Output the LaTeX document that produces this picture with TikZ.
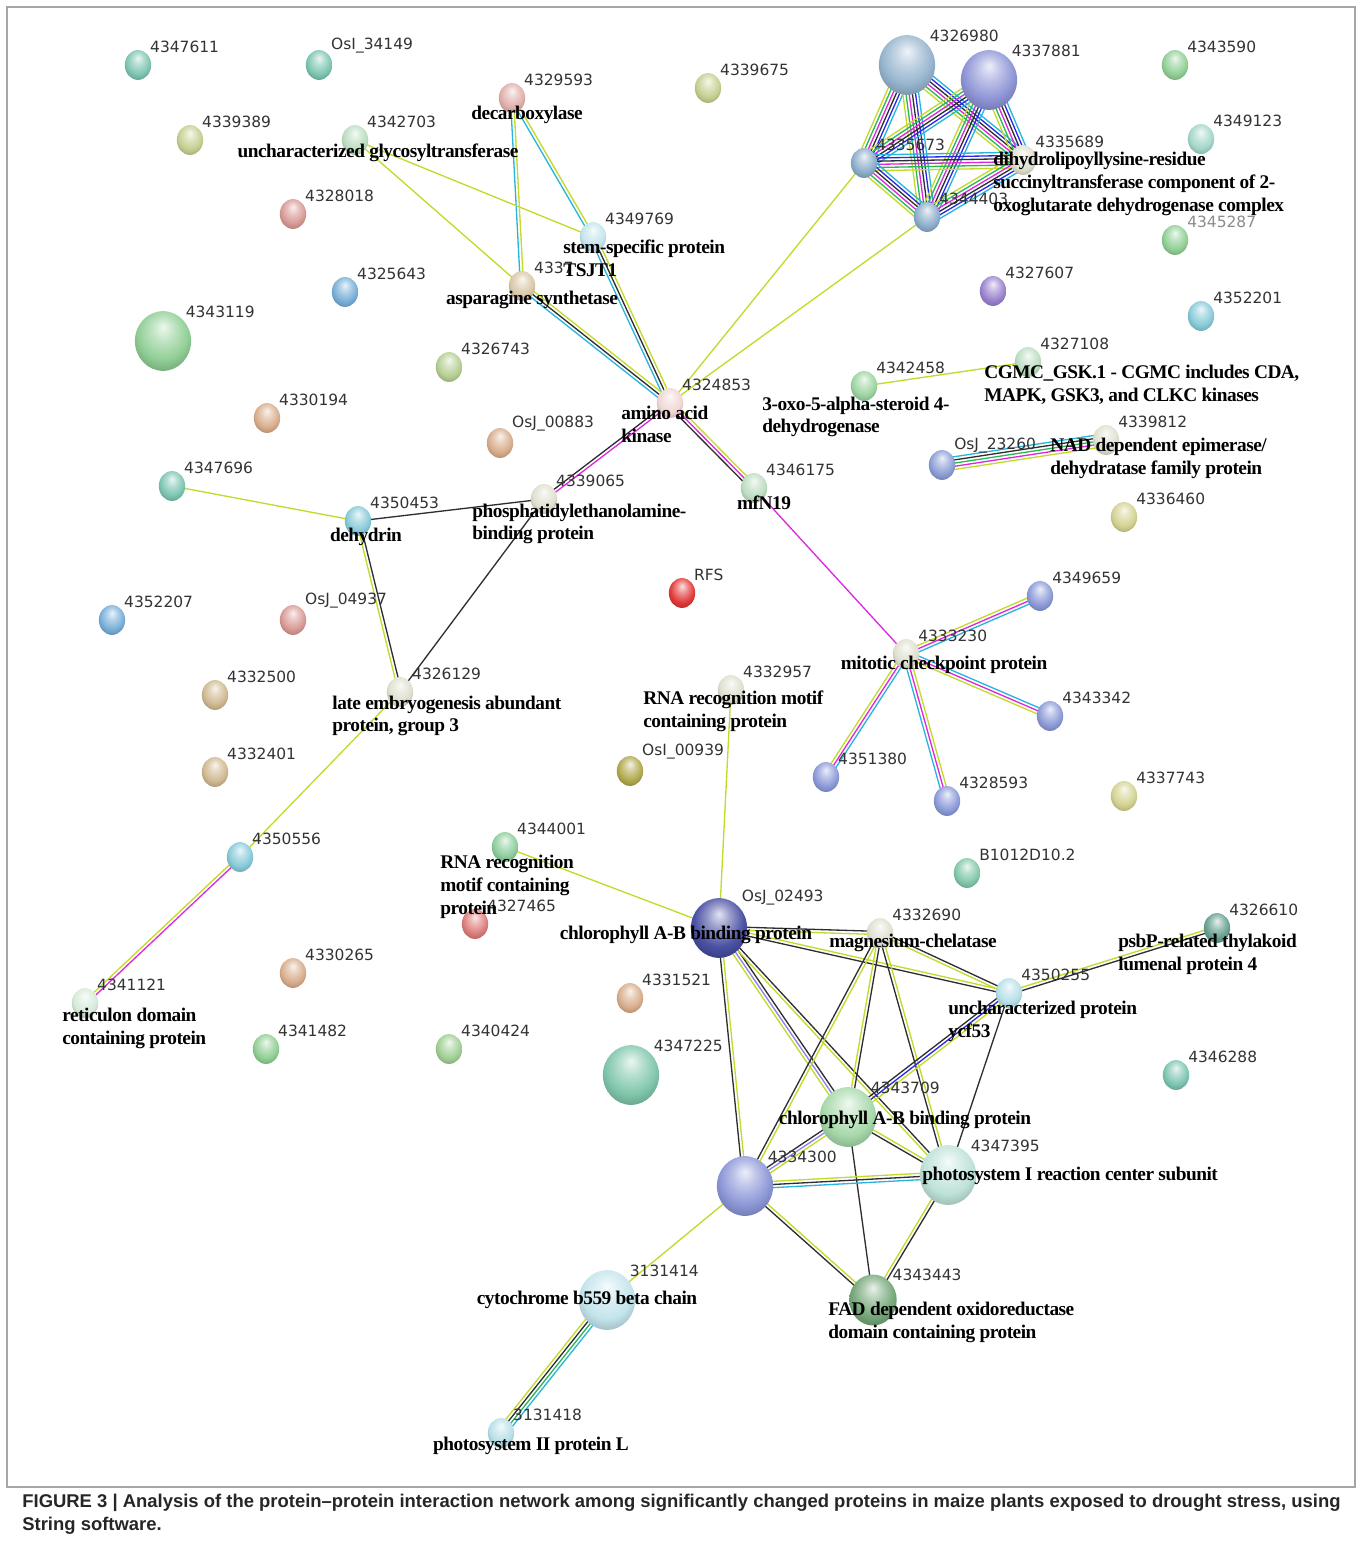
\documentclass[tikz,border=0pt]{standalone}
\usepackage{fontspec}
\setmainfont{Liberation Serif}
\newfontfamily\namefont[LetterSpace=-2.5]{Liberation Serif}
\newfontfamily\numfont{DejaVu Sans}
\newfontfamily\capfont{Liberation Sans}
\usetikzlibrary{calc,backgrounds,shapes.geometric}

% node colours
\definecolor{cTeal}{RGB}{120,195,175}
\definecolor{cOlive}{RGB}{195,205,140}
\definecolor{cGreen}{RGB}{140,205,145}
\definecolor{cPaleGreen}{RGB}{185,220,190}
\definecolor{cRose}{RGB}{215,150,145}
\definecolor{cTan}{RGB}{215,170,135}
\definecolor{cBeige}{RGB}{205,182,140}
\definecolor{cBlue}{RGB}{115,172,215}
\definecolor{cSky}{RGB}{130,200,215}
\definecolor{cPurple}{RGB}{150,125,205}
\definecolor{cRed}{RGB}{225,50,50}
\definecolor{cPeri}{RGB}{135,150,215}
\definecolor{cSteel}{RGB}{135,170,200}
\definecolor{cPale}{RGB}{222,222,205}
\definecolor{cYellow}{RGB}{210,208,140}
\definecolor{cDarkOlive}{RGB}{175,165,70}
% link colours
\definecolor{lkLime}{RGB}{195,218,40}
\definecolor{lkBlack}{RGB}{45,45,50}
\definecolor{lkCyan}{RGB}{40,180,220}
\definecolor{lkMagenta}{RGB}{220,40,220}
\definecolor{lkGreen}{RGB}{40,185,80}
\definecolor{lkBlue}{RGB}{40,40,230}
\definecolor{lkLav}{RGB}{140,130,235}

% lighter sphere than the ball shading
\pgfdeclareradialshading[tikz@ball]{glossy}{\pgfqpoint{0bp}{12bp}}{%
  color(0bp)=(tikz@ball!15!white);
  color(10bp)=(tikz@ball!55!white);
  color(22bp)=(tikz@ball!95!white);
  color(30bp)=(tikz@ball!85!black);
  color(50bp)=(tikz@ball!55!black)}

% parallel links between two nodes, one line per colour
\newcount\nlinks
\newcommand{\links}[3]{%
  \global\nlinks=0
  \foreach \c in {#3}{\global\advance\nlinks by 1}%
  \edef\nn{\the\nlinks}%
  \foreach \c [count=\i] in {#3}{%
    \pgfmathsetmacro\off{(\i-(\nn+1)/2)*1.8}%
    \draw[link,draw=\c] ($(#1)!\off pt!90:(#2)$) -- ($(#2)!\off pt!-90:(#1)$);
  }%
}

\begin{document}
\begin{tikzpicture}[x=0.02cm,y=-0.02cm,
    prot/.style={ellipse,inner sep=0pt,minimum width=15pt,minimum height=17pt,ball color=#1,shading=glossy},
    big/.style={minimum width=32pt,minimum height=34pt},
    numlbl/.style={font=\numfont\fontsize{8.8}{10}\selectfont,text=black!80,inner sep=1pt},
    every label/.style={numlbl},
    label distance=0pt,
    pname/.style={font=\namefont\bfseries\fontsize{11}{13}\selectfont,inner sep=0pt,align=left},
    link/.style={line width=0.75pt},
    capt/.style={font=\capfont\bfseries\fontsize{10.5}{13}\selectfont,text=black!85,align=left,inner sep=0pt}]
\useasboundingbox (0,0) rectangle (1362,1548);
\draw[gray!70,line width=0.8pt] (7,7) rectangle (1355,1487);

% proteins
\node[prot=cTeal,label=45:4347611] (n4347611) at (138,65) {};
\node[prot=cTeal,label=45:OsI\_34149] (nOsI34149) at (319,65) {};
\node[prot=cRose!80!white,label=45:4329593] (n4329593) at (512,98) {};
\node[prot=cOlive,label=45:4339675] (n4339675) at (708,88) {};
\node[prot=cOlive,label=45:4339389] (n4339389) at (190,140) {};
\node[prot=cPaleGreen,label=45:4342703] (n4342703) at (355,140) {};
\node[prot=cRose,label=45:4328018] (n4328018) at (293,214) {};
\node[prot=cSky!50!white,label=45:4349769] (n4349769) at (593,237) {};
\node[prot=cBeige!80!white,label=45:4337] (n4337) at (522,286) {};
\node[prot=cBlue,label=45:4325643] (n4325643) at (345,292) {};
\node[prot=cGreen,big,label=45:4343119] (n4343119) at (163,341) {};
\node[prot=cOlive!70!cGreen,label=45:4326743] (n4326743) at (449,367) {};
\node[prot=cRose!40!white,label=45:4324853] (n4324853) at (670,403) {};
\node[prot=cTan,label=45:4330194] (n4330194) at (267,418) {};
\node[prot=cTan,label=45:OsJ\_00883] (nOsJ00883) at (500,443) {};
\node[prot=cTeal,label=45:4347696] (n4347696) at (172,486) {};
\node[prot=cSky,label=45:4350453] (n4350453) at (358,521) {};
\node[prot=cPale,label=45:4339065] (n4339065) at (544,499) {};
\node[prot=cPaleGreen,label=45:4346175] (n4346175) at (754,488) {};
\node[prot=cRed,label=45:RFS] (nRFS) at (682,593) {};
\node[prot=cBlue,label=45:4352207] (n4352207) at (112,620) {};
\node[prot=cRose,label=45:OsJ\_04937] (nOsJ04937) at (293,620) {};
\node[prot=cBeige,label=45:4332500] (n4332500) at (215,695) {};
\node[prot=cPale,label=45:4326129] (n4326129) at (400,692) {};
\node[prot=cBeige,label=45:4332401] (n4332401) at (215,772) {};
\node[prot=cDarkOlive,label=45:OsI\_00939] (nOsI00939) at (630,771) {};
\node[prot=cPale,label=45:4332957] (n4332957) at (731,690) {};
\node[prot=cSky,label=45:4350556] (n4350556) at (240,857) {};
\node[prot=cGreen!80!cTeal,label=45:4344001] (n4344001) at (505,847) {};
\node[prot=cRose!70!cRed,label=45:4327465] (n4327465) at (475,924) {};
\node[prot=cPaleGreen!60!white,label=45:4341121] (n4341121) at (85,1003) {};
\node[prot=cTan,label=45:4330265] (n4330265) at (293,973) {};
\node[prot=cGreen,label=45:4341482] (n4341482) at (266,1049) {};
\node[prot=cGreen!70!cOlive,label=45:4340424] (n4340424) at (449,1049) {};
\node[prot=cTan,label=45:4331521] (n4331521) at (630,998) {};
\node[prot=cTeal!80!cGreen,big,label=45:4347225] (n4347225) at (631,1075) {};
\node[prot=cPeri!70!blue!70!black,big,label=45:OsJ\_02493] (nOsJ02493) at (719,928) {};
\node[prot=cPale,label=45:4332690] (n4332690) at (880,933) {};
\node[prot=cTeal!80!black,label=45:4326610] (n4326610) at (1217,928) {};
\node[prot=cSky!60!white,label=45:4350255] (n4350255) at (1009,993) {};
\node[prot=cTeal!70!cGreen,label=45:B1012D10.2] (nB1012) at (967,873) {};
\node[prot=cTeal,label=45:4346288] (n4346288) at (1176,1075) {};
\node[prot=cGreen!80!white,big,label=45:4343709] (n4343709) at (848,1117) {};
\node[prot=cTeal!50!white,big,label=45:4347395] (n4347395) at (948,1175) {};
\node[prot=cPeri!90!cPurple,big,label=45:4334300] (n4334300) at (745,1186) {};
\node[prot=cGreen!80!black,big,minimum width=27pt,minimum height=29pt,label=45:4343443] (n4343443) at (873,1300) {};
\node[prot=cSky!50!white,big,label=45:3131414] (n3131414) at (607,1300) {};
\node[prot=cSky!60!white,label=45:3131418] (n3131418) at (501,1433) {};
\node[prot=cSteel!90!white,big,label=45:4326980] (n4326980) at (907,65) {};
\node[prot=cPeri!80!cPurple,big,label=45:4337881] (n4337881) at (989,80) {};
\node[prot=cGreen,label=45:4343590] (n4343590) at (1175,65) {};
\node[prot=cSteel,label=45:4335673] (n4335673) at (864,163) {};
\node[prot=cPale,label=45:4335689] (n4335689) at (1023,160) {};
\node[prot=cTeal!70!white,label=45:4349123] (n4349123) at (1201,139) {};
\node[prot=cSteel,label=45:4344403] (n4344403) at (927,217) {};
\node[prot=cGreen,label={[text=black!45]45:4345287}] (n4345287) at (1175,240) {};
\node[prot=cPurple,label=45:4327607] (n4327607) at (993,291) {};
\node[prot=cSky,label=45:4352201] (n4352201) at (1201,316) {};
\node[prot=cPaleGreen,label=45:4327108] (n4327108) at (1028,362) {};
\node[prot=cGreen!90!white,label=45:4342458] (n4342458) at (864,386) {};
\node[prot=cPale,label=45:4339812] (n4339812) at (1106,440) {};
\node[prot=cPeri!80!cSteel,label=45:OsJ\_23260] (nOsJ23260) at (942,465) {};
\node[prot=cYellow,label=45:4336460] (n4336460) at (1124,517) {};
\node[prot=cPeri,label=45:4349659] (n4349659) at (1040,596) {};
\node[prot=cPale,label=45:4333230] (n4333230) at (906,654) {};
\node[prot=cPeri,label=45:4343342] (n4343342) at (1050,716) {};
\node[prot=cPeri,label=45:4351380] (n4351380) at (826,777) {};
\node[prot=cPeri,label=45:4328593] (n4328593) at (947,801) {};
\node[prot=cYellow,label=45:4337743] (n4337743) at (1124,796) {};

% protein names
\node[pname] (tDecarb) at (527,115) {decarboxylase};
\node[pname] (tGlyco) at (378,153) {uncharacterized glycosyltransferase};
\node[pname,anchor=west] (tStem) at (563,258) {stem-specific protein\\TSJT1};
\node[pname] (tAsn) at (532,300) {asparagine synthetase};
\node[pname,anchor=west] (tAak) at (621,424) {amino acid\\kinase};
\node[pname,anchor=west] (tPebp) at (472,524) {phosphatidylethanolamine-\\binding protein};
\node[pname] (tDhn) at (366,537) {dehydrin};
\node[pname] (tMfn) at (764,503) {mfN19};
\node[pname,anchor=west] (tLea) at (332,716) {late embryogenesis abundant\\protein, group 3};
\node[pname,anchor=west] (tRrmA) at (643,711) {RNA recognition motif\\containing protein};
\node[pname,anchor=west] (tRrmB) at (440,887) {RNA recognition\\motif containing\\protein};
\node[pname,anchor=west] (tRtn) at (62,1028) {reticulon domain\\containing protein};
\node[pname] (tCabA) at (686,935) {chlorophyll A-B binding protein};
\node[pname] (tMgch) at (913,943) {magnesium-chelatase};
\node[pname,anchor=west] (tPsbp) at (1118,954) {psbP-related thylakoid\\lumenal protein 4};
\node[pname,anchor=west] (tYcf) at (948,1021) {uncharacterized protein\\ycf53};
\node[pname] (tCabB) at (905,1120) {chlorophyll A-B binding protein};
\node[pname,anchor=west] (tPsi) at (922,1176) {photosystem I reaction center subunit};
\node[pname,anchor=west] (tFad) at (828,1322) {FAD dependent oxidoreductase\\domain containing protein};
\node[pname] (tCyt) at (587,1300) {cytochrome b559 beta chain};
\node[pname] (tPsii) at (531,1446) {photosystem II protein L};
\node[pname,anchor=west] (tDld) at (993,184) {dihydrolipoyllysine-residue\\succinyltransferase component of 2-\\oxoglutarate dehydrogenase complex};
\node[pname,anchor=west] (tCgmc) at (984,385) {CGMC\_GSK.1 - CGMC includes CDA,\\MAPK, GSK3, and CLKC kinases};
\node[pname,anchor=west] (tOxo) at (762,417) {3-oxo-5-alpha-steroid 4-\\dehydrogenase};
\node[pname,anchor=west] (tNad) at (1050,458) {NAD dependent epimerase/\\dehydratase family protein};
\node[pname] (tMit) at (944,665) {mitotic checkpoint protein};

\node[capt,anchor=north west] (caption) at (22,1494) {FIGURE 3 | Analysis of the protein–protein interaction network among significantly changed proteins in maize plants exposed to drought stress, using\\String software.};

% interactions
\begin{scope}[on background layer]
\fill[white] (0,0) rectangle (1362,1548);
\links{n4329593}{n4337}{lkCyan,lkLime}
\links{n4329593}{n4349769}{lkCyan,lkLime}
\links{n4342703}{n4349769}{lkLime}
\links{n4342703}{n4337}{lkLime}
\links{n4349769}{n4324853}{lkCyan,lkBlack,lkLime}
\links{n4337}{n4324853}{lkCyan,lkBlack,lkLime}
\links{n4324853}{n4335673}{lkLime}
\links{n4324853}{n4344403}{lkLime}
\links{n4324853}{n4339065}{lkBlack,lkMagenta}
\links{n4324853}{n4346175}{lkBlack,lkMagenta,lkLime}
\links{n4346175}{n4333230}{lkMagenta}
\links{n4339065}{n4350453}{lkBlack}
\links{n4339065}{n4326129}{lkBlack}
\links{n4347696}{n4350453}{lkLime}
\links{n4350453}{n4326129}{lkLime,lkBlack}
\links{n4326129}{n4350556}{lkLime}
\links{n4350556}{n4341121}{lkLime,lkMagenta}
\links{n4342458}{n4327108}{lkLime}
\links{nOsJ23260}{n4339812}{lkLime,lkMagenta,lkGreen,lkBlack,lkCyan}
\links{n4333230}{n4349659}{lkCyan,lkMagenta,lkLime}
\links{n4333230}{n4343342}{lkLime,lkMagenta,lkCyan}
\links{n4333230}{n4351380}{lkLime,lkMagenta,lkCyan}
\links{n4333230}{n4328593}{lkCyan,lkMagenta,lkLime}
\links{n4332957}{nOsJ02493}{lkLime}
\links{n4344001}{nOsJ02493}{lkLime}
% complex at the top
\foreach \a/\b in {n4326980/n4335673,n4326980/n4335689,n4326980/n4344403,
    n4337881/n4335673,n4337881/n4335689,n4337881/n4344403,
    n4335673/n4335689,n4335673/n4344403,n4335689/n4344403}
  {\links{\a}{\b}{lkLime,lkGreen,lkMagenta,lkBlack,lkBlue,lkCyan}}
% photosynthesis cluster
\links{nOsJ02493}{n4332690}{lkLime,lkBlack}
\links{nOsJ02493}{n4350255}{lkBlack,lkLime}
\links{nOsJ02493}{n4343709}{lkLime,lkLav,lkBlack}
\links{nOsJ02493}{n4347395}{lkLime,lkBlack}
\links{nOsJ02493}{n4334300}{lkBlack,lkLime}
\links{n4332690}{n4350255}{lkLime,lkBlack}
\links{n4332690}{n4343709}{lkLime,lkBlack}
\links{n4332690}{n4334300}{lkBlack,lkLime}
\links{n4332690}{n4347395}{lkBlack,lkLime}
\links{n4350255}{n4326610}{lkBlack,lkLime}
\links{n4350255}{n4343709}{lkBlack,lkBlue,lkLime}
\links{n4350255}{n4347395}{lkBlack}
\links{n4343709}{n4334300}{lkBlack,lkLav,lkLime}
\links{n4343709}{n4347395}{lkBlack,lkLime}
\links{n4343709}{n4343443}{lkBlack}
\links{n4334300}{n4347395}{lkCyan,lkBlack,lkLime}
\links{n4334300}{n4343443}{lkBlack,lkLime}
\links{n4347395}{n4343443}{lkLime,lkBlack}
\links{n4334300}{n3131414}{lkLime}
\links{n3131414}{n3131418}{lkLime,lkBlack,lkGreen,lkCyan}
\end{scope}
\end{tikzpicture}
\end{document}
